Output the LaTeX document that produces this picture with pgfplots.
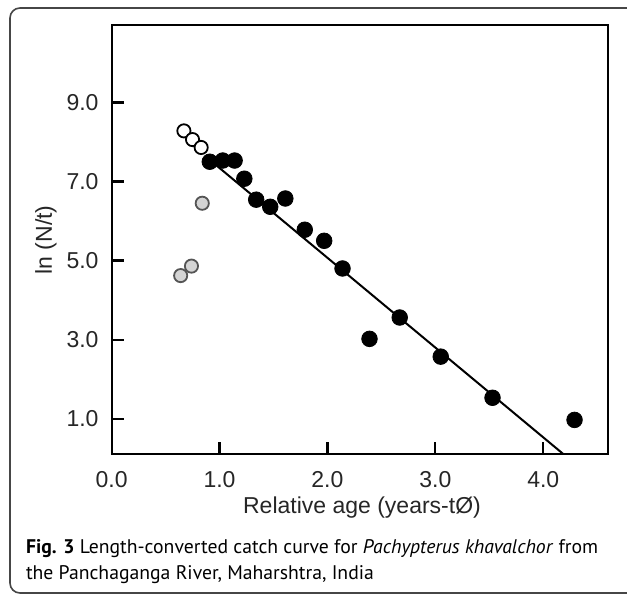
\documentclass[border=0pt]{standalone}
\usepackage{fontspec}
\setmainfont{Liberation Sans}
\newfontfamily\capfont{PT Sans}
\usepackage{pgfplots}
\pgfplotsset{compat=1.18}
\definecolor{framegray}{RGB}{70,70,70}
\definecolor{ptgray}{RGB}{212,212,212}
\definecolor{ptedge}{RGB}{85,85,85}

\begin{document}
\begin{tikzpicture}[x=0.5pt,y=-0.5pt]
\useasboundingbox (0,0) rectangle (627,595);
\begin{scope}
  \clip (0,0) rectangle (627,595);
  \draw[rounded corners=5pt, line width=0.8pt, framegray] (10,8) rectangle (660,593);
\end{scope}
\begin{axis}[
  at={(55.8pt,-227.15pt)}, anchor=south west,
  scale only axis,
  width=248.2pt, height=214.5pt,
  xmin=0, xmax=4.6,
  ymin=0.1, ymax=10.95,
  xtick={0,1,2,3,4},
  ytick={1,3,5,7,9},
  tick pos=left,
  tick align=inside,
  major tick length=6pt,
  axis line style={line width=1.1pt},
  every tick/.style={black, line width=1.1pt},
  /pgf/number format/assume math mode=true,
  /pgf/number format/.cd, fixed, fixed zerofill, precision=1,
  /pgfplots/.cd,
  tick label style={font=\fontsize{11.5}{13}\selectfont, text=black!85},
  xticklabel style={yshift=-5pt},
  yticklabel style={xshift=-3pt},
  clip=false,
]
\addplot[black, line width=1pt] coordinates {(0.93,7.50) (4.18,0.12)};
% open circles
\addplot[only marks, mark=*, mark size=3.3pt,
  mark options={fill=white, draw=black, line width=0.9pt}]
  coordinates {(0.67,8.28) (0.75,8.06) (0.83,7.86)};
% grey circles
\addplot[only marks, mark=*, mark size=3.3pt,
  mark options={fill=ptgray, draw=ptedge, line width=0.9pt}]
  coordinates {(0.64,4.62) (0.74,4.86) (0.84,6.45)};
% filled circles
\addplot[only marks, mark=*, mark size=3.9pt,
  mark options={fill=black, draw=black}]
  coordinates {
    (0.91,7.50) (1.03,7.53) (1.14,7.53) (1.23,7.07) (1.34,6.54)
    (1.47,6.36) (1.61,6.57) (1.79,5.78) (1.97,5.50) (2.14,4.80)
    (2.39,3.02) (2.67,3.56) (3.05,2.57) (3.53,1.53) (4.29,0.97)};
\end{axis}
\node[font=\fontsize{11.5}{13}\selectfont, text=black!85] at (362,508) {Relative age (years-tØ)};
\node[font=\fontsize{11.5}{13}\selectfont, text=black!85, rotate=90] at (46,240) {ln (N/t)};
\node[anchor=base west, inner sep=0pt, font=\capfont\fontsize{9.85}{13}\selectfont]
  at (25.6,553) {\textbf{Fig. 3} Length-converted catch curve for \textit{Pachypterus khavalchor} from};
\node[anchor=base west, inner sep=0pt, font=\capfont\fontsize{9.85}{13}\selectfont]
  at (25.6,579) {the Panchaganga River, Maharshtra, India};
\end{tikzpicture}
\end{document}
